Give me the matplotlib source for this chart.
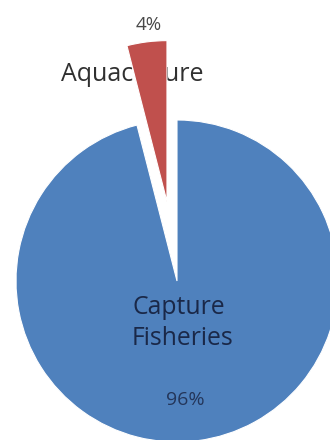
import matplotlib.pyplot as plt

# fish production share
sources = ["Capture\nFisheries", "Aquaculture"]
shares = [96, 4]
colors = ["#4f81bd", "#c0504d"]
pull_out = [0, 80]

W, H = 330, 440

def px(x, y):
    # pixel coords (origin top-left) -> data coords
    return x, H - y

fig = plt.figure(figsize=(3.3, 4.4), dpi=100)
ax = fig.add_axes([0, 0, 1, 1])

wedges, _ = ax.pie(
    shares,
    colors=colors,
    explode=pull_out,
    center=px(177, 281),
    radius=161,
    startangle=90,
    counterclock=False,
    wedgeprops=dict(edgecolor="white", linewidth=0.8, zorder=2),
)

ax.set_xlim(0, W)
ax.set_ylim(0, H)
ax.set_aspect("auto")
ax.axis("off")

font = ["Open Sans", "DejaVu Sans"]

# aquaculture labels, above the pulled-out slice (slice sits on top)
ax.text(*px(149, 25), f"{shares[1]}%", ha="center", va="center",
        fontsize=13.5, color="#484848", family=font, zorder=1)
ax.text(*px(132, 74), sources[1], ha="center", va="center",
        fontsize=18, color="#303030", family=font, zorder=1)

# capture fisheries labels, inside the big slice
ax.text(*px(132, 323), sources[0], ha="left", va="center",
        fontsize=17.8, color="#1a2848", family=font, linespacing=1.3,
        zorder=3)
ax.text(*px(185, 400), f"{shares[0]}%", ha="center", va="center",
        fontsize=14, color="#24365a", family=font, zorder=3)

fig.savefig("out.png", dpi=100, facecolor="white")
